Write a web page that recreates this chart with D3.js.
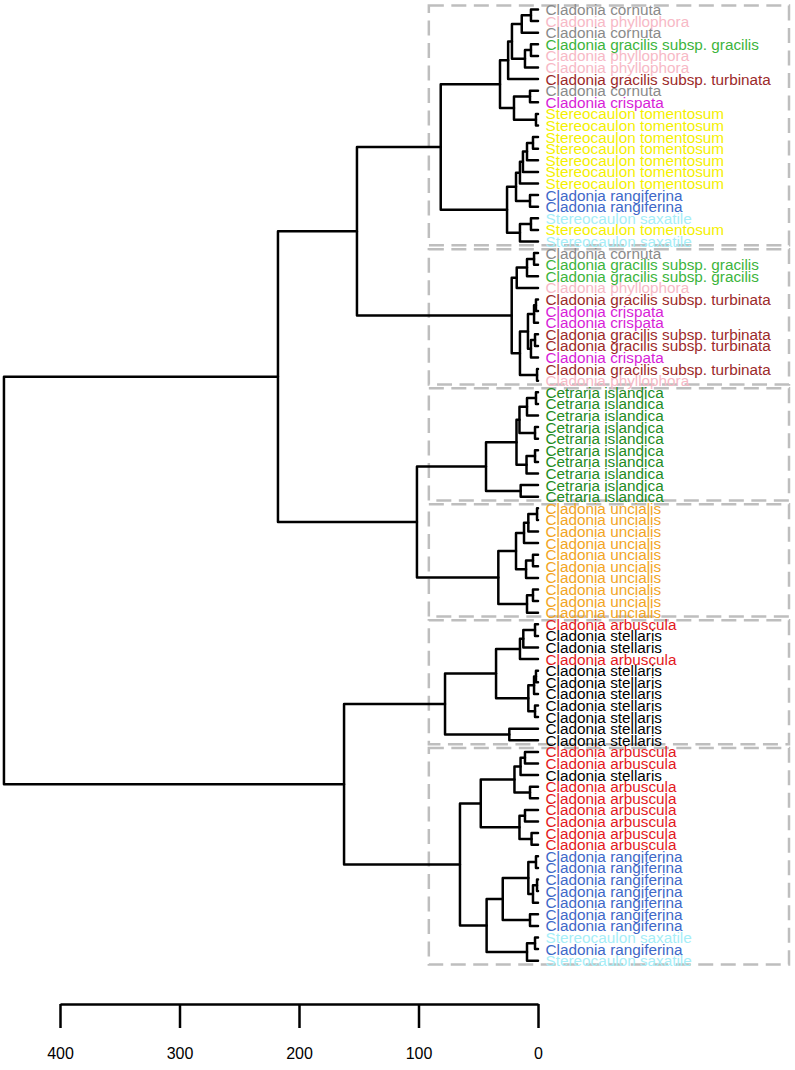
<!DOCTYPE html>
<html><head><meta charset="utf-8">
<script src="https://cdn.jsdelivr.net/npm/d3@7"></script>
<style>body{margin:0;background:#fff} svg{display:block}</style>
</head><body>
<svg id="chart" width="795" height="1070"></svg>
<script>
// ---------------- DATA ----------------
const leafLabels = [
  "Cladonia cornuta","Cladonia phyllophora","Cladonia cornuta","Cladonia gracilis subsp. gracilis",
  "Cladonia phyllophora","Cladonia phyllophora","Cladonia gracilis subsp. turbinata","Cladonia cornuta",
  "Cladonia crispata","Stereocaulon tomentosum","Stereocaulon tomentosum","Stereocaulon tomentosum",
  "Stereocaulon tomentosum","Stereocaulon tomentosum","Stereocaulon tomentosum","Stereocaulon tomentosum",
  "Cladonia rangiferina","Cladonia rangiferina","Stereocaulon saxatile","Stereocaulon tomentosum",
  "Stereocaulon saxatile",
  "Cladonia cornuta","Cladonia gracilis subsp. gracilis","Cladonia gracilis subsp. gracilis","Cladonia phyllophora",
  "Cladonia gracilis subsp. turbinata","Cladonia crispata","Cladonia crispata","Cladonia gracilis subsp. turbinata",
  "Cladonia gracilis subsp. turbinata","Cladonia crispata","Cladonia gracilis subsp. turbinata","Cladonia phyllophora",
  "Cetraria islandica","Cetraria islandica","Cetraria islandica","Cetraria islandica","Cetraria islandica",
  "Cetraria islandica","Cetraria islandica","Cetraria islandica","Cetraria islandica","Cetraria islandica",
  "Cladonia uncialis","Cladonia uncialis","Cladonia uncialis","Cladonia uncialis","Cladonia uncialis",
  "Cladonia uncialis","Cladonia uncialis","Cladonia uncialis","Cladonia uncialis","Cladonia uncialis",
  "Cladonia arbuscula","Cladonia stellaris","Cladonia stellaris","Cladonia arbuscula",
  "Cladonia stellaris","Cladonia stellaris","Cladonia stellaris","Cladonia stellaris","Cladonia stellaris",
  "Cladonia stellaris","Cladonia stellaris",
  "Cladonia arbuscula","Cladonia arbuscula","Cladonia stellaris","Cladonia arbuscula","Cladonia arbuscula",
  "Cladonia arbuscula","Cladonia arbuscula","Cladonia arbuscula","Cladonia arbuscula",
  "Cladonia rangiferina","Cladonia rangiferina","Cladonia rangiferina","Cladonia rangiferina","Cladonia rangiferina",
  "Cladonia rangiferina","Cladonia rangiferina","Stereocaulon saxatile","Cladonia rangiferina","Stereocaulon saxatile"
];

const speciesNames = [
  "Cladonia cornuta","Cladonia phyllophora","Cladonia gracilis subsp. gracilis","Cladonia gracilis subsp. turbinata",
  "Cladonia crispata","Stereocaulon tomentosum","Cladonia rangiferina","Stereocaulon saxatile",
  "Cetraria islandica","Cladonia uncialis","Cladonia arbuscula","Cladonia stellaris"
];
const speciesColors = [
  "#8a8a8a","#f7b9c6","#3cb43c","#9c2a2a",
  "#d81ed8","#f5f000","#4068c8","#a6eef8",
  "#238b23","#f2a524","#e3191c","#000000"
];

// tree: [mergeHeight, left, right]; integers are leaf indices
const cluster1 = [81.4,
  [31.8,
    [25.0,
      [21.8, [13.6, [5.9, 0, 1], 2], [10.9, [5.9, 3, 4], 5]],
      6],
    [20.1, [6.7, 7, 8], [1.7, 9, 10]]],
  [25.9,
    [18.4,
      [15.1, [12.6, [9.2, [4.2, 11, 12], 13], 14], 15],
      [6.7, 16, 17]],
    [15.1, [5.9, 18, 19], 20]]];
const cluster2 = [22.0,
  [17.8, [9.2, [3.3, 21, 22], 23], 24],
  [15.1,
    [8.4, [3.3, [1.7, 25, 26], 27], [5.9, [2.5, 28, 29], 30]],
    [0.8, 31, 32]]];
const cluster3 = [43.5,
  [18.0,
    [15.5, [9.2, [1.7, 33, 34], 35], [2.5, 36, 37]],
    [9.6, [2.5, 38, 39], 40]],
  [14.5, 41, 42]];
const cluster4 = [33.2,
  [18.4,
    [11.7, [8.1, [0.8, 43, 44], 45], 46],
    [10.0, [4.2, 47, 48], 49]],
  [9.2, [4.2, 50, 51], 52]];
const cluster5 = [77.8,
  [35.1,
    [15.1, [12.3, [2.5, 53, 54], 55], 56],
    [8.1, [3.3, [1.7, 57, 58], 59], [2.5, 60, 61]]],
  [24.0, 62, 63]];
const cluster6 = [65.3,
  [47.9,
    [19.7, [14.6, [10.9, 64, 65], 66], [6.7, 67, 68]],
    [15.5, [10.9, 69, 70], [5.4, 71, 72]]],
  [43.0,
    [29.5,
      [8.1, [1.7, 73, 74], [4.2, [0.8, 75, 76], 77]],
      [6.7, 78, 79]],
    [9.2, [2.5, 80, 81], 82]]];
const tree = [446.9,
  [217.6, [151.5, cluster1, cluster2], [101.3, cluster3, cluster4]],
  [162.3, cluster5, cluster6]];

const tickValues = [400, 300, 200, 100, 0];
const nClusters = 6;

// ---------------- LAYOUT ----------------
const svg = d3.select("#chart");
const x = d3.scaleLinear().domain([400, 0]).range([60, 538]);
const y = d3.scaleLinear().domain([0, leafLabels.length - 1]).range([9.5, 960.7]);
const color = d3.scaleOrdinal().domain(speciesNames).range(speciesColors);
const boxRight = 789;

function toNode(t) {
  if (typeof t === "number") return { leaf: t, h: 0 };
  return { h: t[0], children: [toNode(t[1]), toNode(t[2])] };
}
const root = d3.hierarchy(toNode(tree));
root.eachAfter(n => {
  n.pos = n.children ? d3.mean(n.children, c => c.pos) : n.data.leaf;
});

// cluster boxes (rect.hclust style)
const heights = root.descendants().filter(n => n.children).map(n => n.data.h).sort((a, b) => b - a);
const cutH = (heights[nClusters - 2] + heights[nClusters - 1]) / 2;
const groups = root.descendants().filter(n => n.data.h < cutH && n.parent && n.parent.data.h >= cutH);

svg.append("g").selectAll("rect").data(groups).join("rect")
  .attr("x", x(cutH))
  .attr("width", boxRight - x(cutH))
  .attr("y", d => y(d3.min(d.leaves(), l => l.data.leaf) - 0.34))
  .attr("height", d => y(d3.max(d.leaves(), l => l.data.leaf) + 0.33) - y(d3.min(d.leaves(), l => l.data.leaf) - 0.34))
  .attr("fill", "none")
  .attr("stroke", "#bebebe")
  .attr("stroke-width", 2.5)
  .attr("stroke-dasharray", "15,7.5");

// dendrogram edges
const internal = root.descendants().filter(n => n.children);
svg.append("g").selectAll("path").data(internal).join("path")
  .attr("d", n => {
    const [a, b] = n.children;
    return `M${x(a.data.h)},${y(a.pos)}H${x(n.data.h)}V${y(b.pos)}H${x(b.data.h)}`;
  })
  .attr("fill", "none")
  .attr("stroke", "#000")
  .attr("stroke-width", 2.5)
  .attr("stroke-linejoin", "round")
  .attr("stroke-linecap", "round");

// leaf labels
svg.append("g").selectAll("text").data(root.leaves()).join("text")
  .attr("x", x(0) + 7.5)
  .attr("y", d => y(d.pos))
  .attr("dy", "0.36em")
  .attr("font-family", "Liberation Sans, Arial, sans-serif")
  .attr("font-size", 15.3)
  .attr("fill", d => color(leafLabels[d.data.leaf]))
  .text(d => leafLabels[d.data.leaf]);

// axis
const axis = d3.axisBottom(x).tickValues(tickValues).tickSize(24).tickSizeOuter(0)
  .tickPadding(20).tickFormat(d3.format("d"));
svg.append("g").attr("transform", "translate(0,1004)").call(axis)
  .call(g => g.select(".domain").attr("stroke-width", 2.5))
  .call(g => g.selectAll(".tick line").attr("stroke-width", 2.5))
  .call(g => g.selectAll("text").attr("font-size", 16)
    .attr("font-family", "Liberation Sans, Arial, sans-serif").attr("fill", "#000"));
</script>
</body></html>
